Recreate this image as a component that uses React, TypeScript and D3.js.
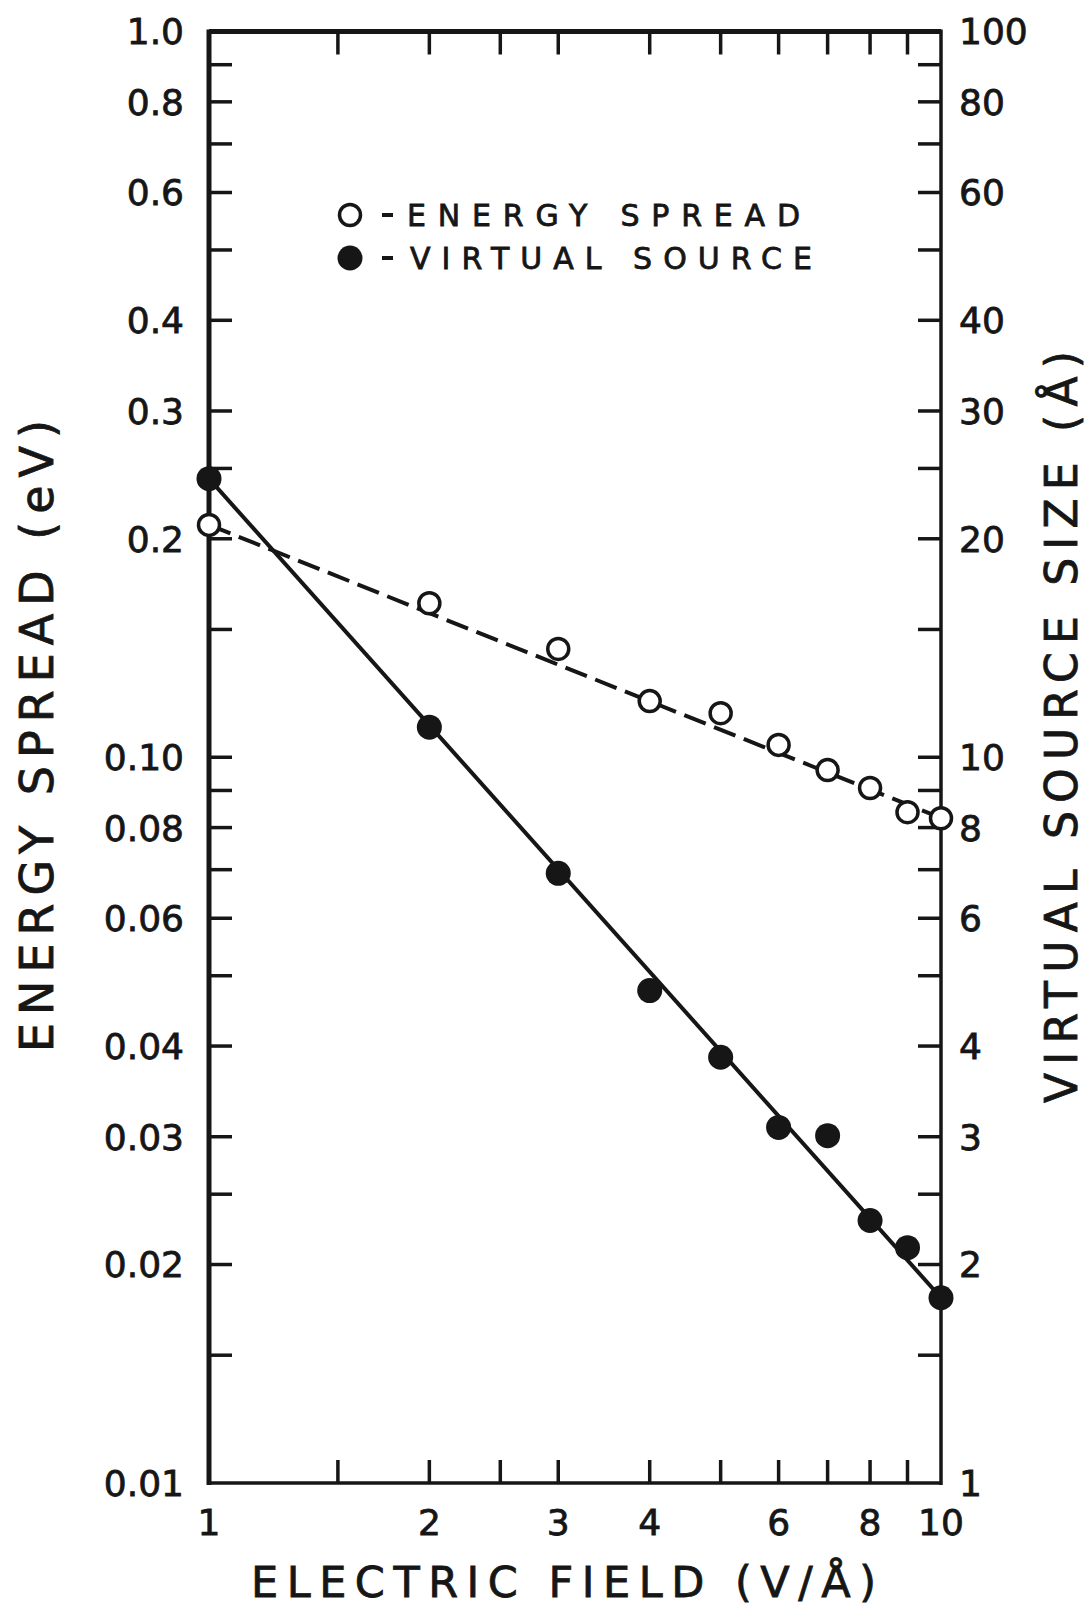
import * as d3 from "d3";
import React from "react";

// electric field (V/Å)
const fieldValues = [1, 2, 3, 4, 5, 6, 7, 8, 9, 10];
// energy spread (eV), open circles
const energySpread = [0.209, 0.163, 0.141, 0.1195, 0.115, 0.104, 0.096, 0.0907, 0.084, 0.0824];
// virtual source size (Å), filled circles
const sourceSize = [24.2, 11.0, 6.92, 4.77, 3.86, 3.09, 3.01, 2.3, 2.11, 1.8];

// fitted straight lines (endpoints at field 1 and 10)
const fitField = [1, 10];
const energyFit = [0.209, 0.0825];
const sourceFit = [24.2, 1.8];

const xTicks = [1.5, 2, 2.5, 3, 4, 5, 6, 7, 8, 9];
const xLabels = [1, 2, 3, 4, 6, 8, 10];

const yTicks = [
  0.015, 0.02, 0.025, 0.03, 0.04, 0.05, 0.06, 0.07, 0.08, 0.09, 0.1,
  0.15, 0.2, 0.25, 0.3, 0.4, 0.5, 0.6, 0.7, 0.8, 0.9,
];
const leftLabels = ["0.01", "0.02", "0.03", "0.04", "0.06", "0.08", "0.10", "0.2", "0.3", "0.4", "0.6", "0.8", "1.0"];
const rightLabels = ["1", "2", "3", "4", "6", "8", "10", "20", "30", "40", "60", "80", "100"];

const INK = "#161616";
const FONT = "'DejaVu Sans', sans-serif";

const App = () => {
  const left = 209;
  const right = 941;
  const top = 31.5;
  const bottom = 1483;
  const tickLen = 23;

  const x = d3.scaleLog().domain([1, 10]).range([left, right]);
  const yL = d3.scaleLog().domain([0.01, 1]).range([bottom, top]);
  const yR = d3.scaleLog().domain([1, 100]).range([bottom, top]);

  const line = d3
    .line<[number, number]>()
    .x((d) => x(d[0]))
    .y((d) => d[1]);

  const energyPath = line(fitField.map((f, i) => [f, yL(energyFit[i])]));
  const sourcePath = line(fitField.map((f, i) => [f, yR(sourceFit[i])]));

  // slight outline to thicken the lettering
  const txt = { fill: INK, stroke: INK, strokeWidth: 0.8 };

  return (
    <svg
      width={1086}
      height={1607}
      style={{ position: "absolute", left: 0, top: 0, background: "#fff" }}
      fontFamily={FONT}
    >
      <rect width={1086} height={1607} fill="#fff" />

      {/* frame */}
      <line x1={left} y1={top} x2={right} y2={top} stroke={INK} strokeWidth={5} />
      <line x1={left} y1={top - 2} x2={left} y2={bottom + 2} stroke={INK} strokeWidth={5} />
      <line x1={left} y1={bottom} x2={right} y2={bottom} stroke={INK} strokeWidth={3.5} />
      <line x1={right} y1={top - 2} x2={right} y2={bottom + 2} stroke={INK} strokeWidth={3.5} />

      {/* x ticks top and bottom */}
      {xTicks.map((t) => (
        <g key={"xt" + t}>
          <line x1={x(t)} x2={x(t)} y1={top} y2={top + tickLen} stroke={INK} strokeWidth={3.5} />
          <line x1={x(t)} x2={x(t)} y1={bottom} y2={bottom - tickLen} stroke={INK} strokeWidth={3.5} />
        </g>
      ))}

      {/* y ticks left and right */}
      {yTicks.map((t) => (
        <g key={"yt" + t}>
          <line x1={left} x2={left + tickLen} y1={yL(t)} y2={yL(t)} stroke={INK} strokeWidth={3.5} />
          <line x1={right} x2={right - tickLen} y1={yL(t)} y2={yL(t)} stroke={INK} strokeWidth={3.5} />
        </g>
      ))}

      {/* tick labels */}
      {xLabels.map((t) => (
        <text key={"xl" + t} x={x(t)} y={1535} textAnchor="middle" fontSize={36} {...txt}>
          {t}
        </text>
      ))}
      {leftLabels.map((s) => (
        <text key={"ll" + s} x={184} y={yL(+s)} dy="0.36em" textAnchor="end" fontSize={36} {...txt}>
          {s}
        </text>
      ))}
      {rightLabels.map((s) => (
        <text key={"rl" + s} x={959} y={yR(+s)} dy="0.36em" textAnchor="start" fontSize={36} {...txt}>
          {s}
        </text>
      ))}

      {/* axis titles */}
      <text x={251} y={1597} fontSize={43} textLength={625} lengthAdjust="spacing" {...txt}>
        ELECTRIC FIELD (V/Å)
      </text>
      <text
        transform="translate(53,1052) rotate(-90)"
        fontSize={46}
        textLength={632}
        lengthAdjust="spacing"
        {...txt}
      >
        ENERGY SPREAD (eV)
      </text>
      <text
        transform="translate(1077,1103) rotate(-90)"
        fontSize={44}
        textLength={752}
        lengthAdjust="spacing"
        {...txt}
      >
        VIRTUAL SOURCE SIZE (Å)
      </text>

      {/* fitted lines */}
      <path d={energyPath || undefined} fill="none" stroke={INK} strokeWidth={4} strokeDasharray="23 9" />
      <path d={sourcePath || undefined} fill="none" stroke={INK} strokeWidth={4} />

      {/* data points */}
      {fieldValues.map((f, i) => (
        <circle key={"e" + f} cx={x(f)} cy={yL(energySpread[i])} r={10.5} fill="#fff" stroke={INK} strokeWidth={3.5} />
      ))}
      {fieldValues.map((f, i) => (
        <circle key={"s" + f} cx={x(f)} cy={yR(sourceSize[i])} r={12.5} fill={INK} />
      ))}

      {/* legend */}
      <circle cx={350} cy={215} r={10.5} fill="#fff" stroke={INK} strokeWidth={3.5} />
      <line x1={382} x2={393} y1={215} y2={215} stroke={INK} strokeWidth={4} />
      <text x={407} y={226} fontSize={30} textLength={393} lengthAdjust="spacing" {...txt}>
        ENERGY SPREAD
      </text>
      <circle cx={350} cy={258} r={12.5} fill={INK} />
      <line x1={382} x2={393} y1={258} y2={258} stroke={INK} strokeWidth={4} />
      <text x={410} y={269} fontSize={30} textLength={402} lengthAdjust="spacing" {...txt}>
        VIRTUAL SOURCE
      </text>
    </svg>
  );
};

export default App;
